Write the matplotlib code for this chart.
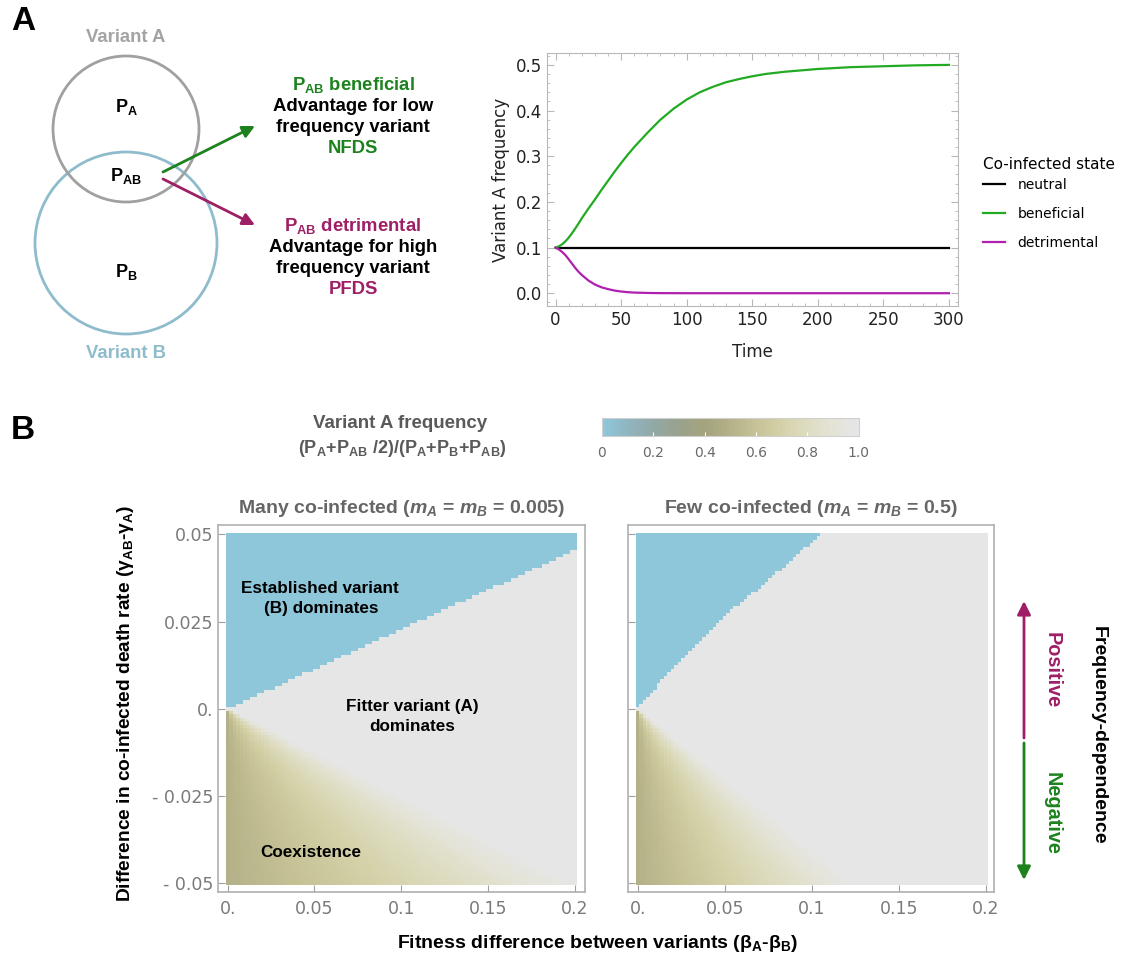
import numpy as np
import matplotlib
matplotlib.use("Agg")
import matplotlib.pyplot as plt
from matplotlib.colors import LinearSegmentedColormap
from matplotlib.patches import Circle
from matplotlib.ticker import FormatStrFormatter, MultipleLocator
import matplotlib.cm as cm

plt.rcParams["font.family"] = ["DejaVu Sans"]
plt.rcParams["mathtext.fontset"] = "custom"
plt.rcParams["mathtext.rm"] = "Liberation Sans:bold"
plt.rcParams["mathtext.it"] = "Liberation Sans:bold:italic"
plt.rcParams["mathtext.bf"] = "Liberation Sans:bold"

# ---- panel A, right: variant A frequency over time
time_pts = [0, 2.5, 5, 7.5, 10, 12.5, 15, 17.5, 20, 25, 30, 35, 40, 45, 50, 55, 60, 70, 80,
            90, 100, 110, 120, 130, 140, 150, 160, 175, 200, 225, 250, 275, 300]
beneficial = [0.100, 0.1025, 0.107, 0.1135, 0.1215, 0.131, 0.1415, 0.1525, 0.164, 0.185,
              0.205, 0.226, 0.246, 0.266, 0.285, 0.303, 0.320, 0.351, 0.380, 0.404, 0.424,
              0.440, 0.452, 0.462, 0.469, 0.475, 0.480, 0.485, 0.491, 0.495, 0.497, 0.499, 0.500]
detrimental = [0.100, 0.096, 0.0905, 0.0835, 0.0745, 0.065, 0.0555, 0.047, 0.040, 0.028,
               0.019, 0.013, 0.009, 0.0058, 0.0037, 0.0023, 0.0014, 0.0006, 0.0002, 0.0001,
               0, 0, 0, 0, 0, 0, 0, 0, 0, 0, 0, 0, 0]
neutral_time = [0, 300]
neutral = [0.1, 0.1]

# ---- panel B: parameter grid
beta_diff = np.linspace(0, 0.2, 101)
gamma_diff = np.linspace(-0.05, 0.05, 101)

# edge of the "B dominates" region
many_edge_beta = [0, 0.05, 0.1, 0.15, 0.2]
many_edge_gamma = [0, 0.0114, 0.0228, 0.0341, 0.0455]
few_edge_gamma = [0, 0.0132, 0.025, 0.0369, 0.05]
few_edge_beta = [0, 0.0224, 0.0463, 0.075, 0.105]

# coexistence wedge: beta/|gamma| where A reaches fixation, and frequency across the wedge
many_coex_ratio = 4.0
few_coex_ratio = 2.5
wedge_pos = [0, 0.25, 0.5, 0.75, 1.0]
wedge_freq = [0.5, 0.62, 0.73, 0.85, 1.0]

cmap_pos = [0, 0.1, 0.2, 0.3, 0.4, 0.5, 0.6, 0.7, 0.8, 0.9, 1.0]
cmap_colors = ["#8ec6da", "#8fb4be", "#92a8a4", "#9aa28c", "#a4a37e", "#b4b188",
               "#c6c296", "#d4d1a8", "#dddcc0", "#e4e3d6", "#e6e6e6"]

x_tick_vals = [0, 0.05, 0.1, 0.15, 0.2]
x_tick_text = ["0.", "0.05", "0.1", "0.15", "0.2"]
y_tick_vals = [-0.05, -0.025, 0, 0.025, 0.05]
y_tick_text = ["- 0.05", "- 0.025", "0.", "0.025", "0.05"]


def freq_grid(edge_fn, coex_ratio):
    B, G = np.meshgrid(beta_diff, gamma_diff)
    out = np.ones_like(B)
    neg = G < 0
    with np.errstate(divide="ignore", invalid="ignore"):
        pos = B / (coex_ratio * np.abs(G))
    out[neg] = np.interp(pos[neg], wedge_pos, wedge_freq)
    out[edge_fn(B, G)] = 0.0
    return out


many_grid = freq_grid(lambda B, G: G > np.interp(B, many_edge_beta, many_edge_gamma), many_coex_ratio)
few_grid = freq_grid(lambda B, G: (G > 0) & (B < np.interp(G, few_edge_gamma, few_edge_beta)), few_coex_ratio)

W, H = 1121, 955
fig = plt.figure(figsize=(W / 100, H / 100), dpi=100)


def box(x0, y0, x1, y1):
    return fig.add_axes([x0 / W, 1 - y1 / H, (x1 - x0) / W, (y1 - y0) / H])


GREEN = "#1d821d"
PURPLE = "#9e1f66"
BOLD = dict(family="Liberation Sans", weight="bold")

# ---- line chart
ax = box(547, 53, 957.5, 306)
ax.plot(neutral_time, neutral, color="black", lw=1.6, label="neutral")
ax.plot(time_pts, beneficial, color="#22aa22", lw=1.6, label="beneficial")
ax.plot(time_pts, detrimental, color="#b020b0", lw=1.6, label="detrimental")
ax.set_xlim(-6.5, 306.5)
ax.set_ylim(-0.028, 0.526)
ax.set_xticks(range(0, 301, 50))
ax.xaxis.set_minor_locator(MultipleLocator(10))
ax.set_yticks([0, 0.1, 0.2, 0.3, 0.4, 0.5])
ax.yaxis.set_minor_locator(MultipleLocator(0.02))
ax.yaxis.set_major_formatter(FormatStrFormatter("%.1f"))
ax.tick_params(which="both", direction="in", top=True, right=True, color="#b8b8b8",
               labelcolor="#222222", labelsize=12)
ax.tick_params(which="major", length=5)
ax.tick_params(which="minor", length=2.5)
for s in ax.spines.values():
    s.set_color("#b8b8b8")
ax.set_xlabel("Time", fontsize=12, color="#222222", labelpad=10)
ax.set_ylabel("Variant A frequency", fontsize=12, color="#222222", labelpad=4)
leg = ax.legend(title="Co-infected state", loc="upper left", bbox_to_anchor=(983 / W, 1 - 157 / H),
                bbox_transform=fig.transFigure, frameon=False, alignment="left", fontsize=10,
                title_fontsize=11, handlelength=1.6, labelspacing=1.08, handletextpad=0.9,
                borderpad=0, borderaxespad=0)
leg._legend_box.sep = 4

# ---- heatmaps
cmap = LinearSegmentedColormap.from_list("freq", list(zip(cmap_pos, cmap_colors)))
panels = [
    (many_grid, (218.3, 525, 585, 891.7), (-0.0054, 0.2058), True,
     "Many co-infected ($m_A$ = $m_B$ = 0.005)"),
    (few_grid, (628.3, 525, 994.3, 891.7), (-0.0054, 0.2049), False,
     "Few co-infected ($m_A$ = $m_B$ = 0.5)"),
]
mesh = None
for grid, rect, xl, ylab, title in panels:
    hx = box(*rect)
    mesh = hx.pcolormesh(beta_diff, gamma_diff, grid, cmap=cmap, vmin=0, vmax=1, shading="nearest")
    hx.set_xlim(*xl)
    hx.set_ylim(-0.0524, 0.0527)
    hx.set_xticks(x_tick_vals)
    hx.set_xticklabels(x_tick_text)
    hx.set_yticks(y_tick_vals)
    hx.set_yticklabels(y_tick_text if ylab else [])
    hx.tick_params(direction="in", length=5, color="#a0a0a0", labelcolor="#7a7a7a", labelsize=12.5)
    hx.tick_params(axis="x", pad=6)
    for s in hx.spines.values():
        s.set_color("#b0b0b0")
        s.set_linewidth(1.2)
    hx.set_title(title, fontsize=14, color="#666666", pad=9, **BOLD)

# ---- colorbar
cax = box(602, 418, 858.7, 436)
sm = cm.ScalarMappable(cmap=cmap.resampled(60), norm=mesh.norm)
cb = fig.colorbar(sm, cax=cax, orientation="horizontal", ticks=[0, 0.2, 0.4, 0.6, 0.8, 1.0])
cb.ax.set_xticklabels(["0", "0.2", "0.4", "0.6", "0.8", "1.0"])
cb.ax.tick_params(direction="in", length=3, color="white", labelcolor="#6a6a6a", labelsize=10, pad=7)
cb.outline.set_edgecolor("#d0d0d0")

# ---- overlay for schematic and annotations
ov = fig.add_axes([0, 0, 1, 1])
ov.set_xlim(0, W)
ov.set_ylim(H, 0)
ov.axis("off")

ov.text(23, 22, "A", fontsize=24, ha="center", va="center", **BOLD)
ov.text(23, 430, "B", fontsize=24, ha="center", va="center", **BOLD)

ov.add_patch(Circle((126, 243), 91, fill=False, ec="#8fbccc", lw=2))
ov.add_patch(Circle((126, 129), 73, fill=False, ec="#a0a0a0", lw=2))
ov.text(126, 38, "Variant A", fontsize=13.3, color="#a3a3a3", ha="center", va="center", **BOLD)
ov.text(126, 353, "Variant B", fontsize=13.3, color="#8fbccc", ha="center", va="center", **BOLD)
ov.text(126, 107, "P$_\\mathrm{A}$", fontsize=13, ha="center", va="center", **BOLD)
ov.text(126, 176, "P$_\\mathrm{AB}$", fontsize=13, ha="center", va="center", **BOLD)
ov.text(126, 272, "P$_\\mathrm{B}$", fontsize=13, ha="center", va="center", **BOLD)

ov.annotate("", xy=(255, 126), xytext=(163, 172),
            arrowprops=dict(arrowstyle="-|>", color=GREEN, lw=2, mutation_scale=18, shrinkA=0, shrinkB=0))
ov.annotate("", xy=(255, 225), xytext=(163, 179),
            arrowprops=dict(arrowstyle="-|>", color=PURPLE, lw=2, mutation_scale=18, shrinkA=0, shrinkB=0))

top_lines = [("P$_\\mathrm{AB}$ beneficial", GREEN), ("Advantage for low", "black"),
             ("frequency variant", "black"), ("NFDS", GREEN)]
bottom_lines = [("P$_\\mathrm{AB}$ detrimental", PURPLE), ("Advantage for high", "black"),
                ("frequency variant", "black"), ("PFDS", PURPLE)]
for i, (txt, col) in enumerate(top_lines):
    ov.text(353, 85 + 21.3 * i, txt, fontsize=13.3, color=col, ha="center", va="center", **BOLD)
for i, (txt, col) in enumerate(bottom_lines):
    ov.text(353, 226 + 21 * i, txt, fontsize=13.3, color=col, ha="center", va="center", **BOLD)

# colorbar title
ov.text(400, 423, "Variant A frequency", fontsize=13.5, color="#5a5a5a", ha="center", va="center", **BOLD)
ov.text(402, 448, "(P$_\\mathrm{A}$+P$_\\mathrm{AB}$ /2)/(P$_\\mathrm{A}$+P$_\\mathrm{B}$+P$_\\mathrm{AB}$)",
        fontsize=13, color="#5a5a5a", ha="center", va="center", **BOLD)

# region labels
ov.text(320, 588, "Established variant", fontsize=12.3, ha="center", va="center", **BOLD)
ov.text(321, 608, "(B) dominates", fontsize=12.3, ha="center", va="center", **BOLD)
ov.text(412, 706, "Fitter variant (A)", fontsize=12.3, ha="center", va="center", **BOLD)
ov.text(412, 726, "dominates", fontsize=12.3, ha="center", va="center", **BOLD)
ov.text(311, 852, "Coexistence", fontsize=12.3, ha="center", va="center", **BOLD)

# axis labels for panel B
ov.text(125, 703, "Difference in co-infected death rate ($\\mathrm{γ_{AB}}$-$\\mathrm{γ_{A}}$)",
        fontsize=13.8, rotation=90, ha="center", va="center", **BOLD)
ov.text(598, 943, "Fitness difference between variants ($\\mathrm{β_A}$-$\\mathrm{β_B}$)",
        fontsize=14, ha="center", va="center", **BOLD)

# frequency-dependence annotation
ov.annotate("", xy=(1024, 601), xytext=(1024, 738),
            arrowprops=dict(arrowstyle="-|>", color=PURPLE, lw=2, mutation_scale=20, shrinkA=0, shrinkB=0))
ov.annotate("", xy=(1024, 880), xytext=(1024, 743),
            arrowprops=dict(arrowstyle="-|>", color=GREEN, lw=2, mutation_scale=20, shrinkA=0, shrinkB=0))
ov.text(1052, 670, "Positive", fontsize=14.3, color=PURPLE, rotation=270, ha="center", va="center", **BOLD)
ov.text(1052, 813, "Negative", fontsize=14.3, color=GREEN, rotation=270, ha="center", va="center", **BOLD)
ov.text(1098, 735, "Frequency-dependence", fontsize=14, rotation=270, ha="center", va="center", **BOLD)

fig.savefig("out.png", dpi=100)
